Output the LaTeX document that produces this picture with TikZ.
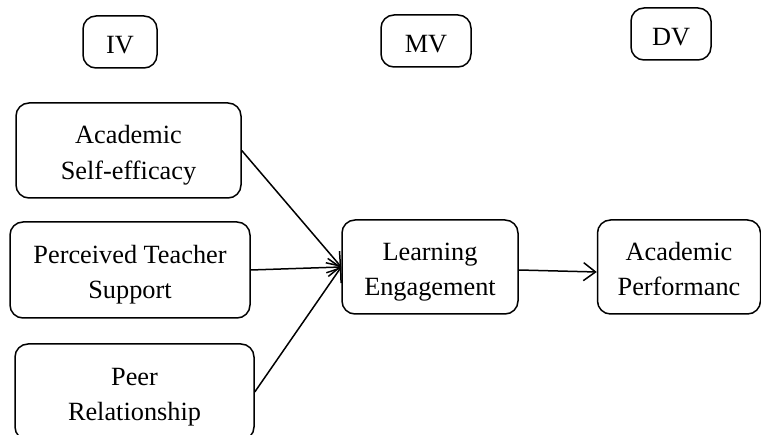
\documentclass[tikz,border=0pt]{standalone}
\usepackage{fontspec}
\setmainfont{Liberation Serif}
\usetikzlibrary{arrows.meta}
% centred lines, set a little below the middle of their box
\newcommand{\boxlines}[1]{\raisebox{-4pt}[\height][\depth]{\begin{tabular}{@{}c@{}}#1\end{tabular}}}
\begin{document}
\begin{tikzpicture}[x=1pt,y=-1pt,
  box/.style={draw, line width=1.5pt, rounded corners=13pt,
    inner sep=0pt, font=\fontsize{26.3}{35.5}\selectfont},
  link/.style={line width=1.5pt, -{Straight Barb[length=12pt,width=18pt,line width=1.5pt]}}]
\useasboundingbox (0,0) rectangle (761,435);
% variable-type tags
\node[box, minimum width=74pt, minimum height=52pt] (iv) at (120,42) {\boxlines{IV}};
\node[box, minimum width=90pt, minimum height=52pt] (mv) at (426,41) {\boxlines{MV}};
\node[box, minimum width=80pt, minimum height=52pt] (dv) at (671,34) {\boxlines{DV}};
% independent variables
\node[box, minimum width=225pt, minimum height=95pt] (ase) at (128.5,150.5) {\boxlines{Academic\\Self-efficacy}};
\node[box, minimum width=240pt, minimum height=96pt] (pts) at (130,270) {\boxlines{Perceived Teacher\\Support}};
\node[box, minimum width=239pt, minimum height=96pt] (pr) at (134.5,392) {\boxlines{Peer\\Relationship}};
% mediator and outcome
\node[box, minimum width=176pt, minimum height=94pt] (le) at (430,267) {\boxlines{Learning\\Engagement}};
\node[box, minimum width=163pt, minimum height=94pt] (ap) at (679,267) {\boxlines{Academic\\Performanc}};
% paths
\draw[link] (ase.east) -- (le.west);
\draw[link] (pts.east) -- (le.west);
\draw[link] (pr.east) -- (le.west);
\draw[link] ([yshift=-3pt]le.east) -- ([yshift=-5pt]ap.west);
\end{tikzpicture}
\end{document}
